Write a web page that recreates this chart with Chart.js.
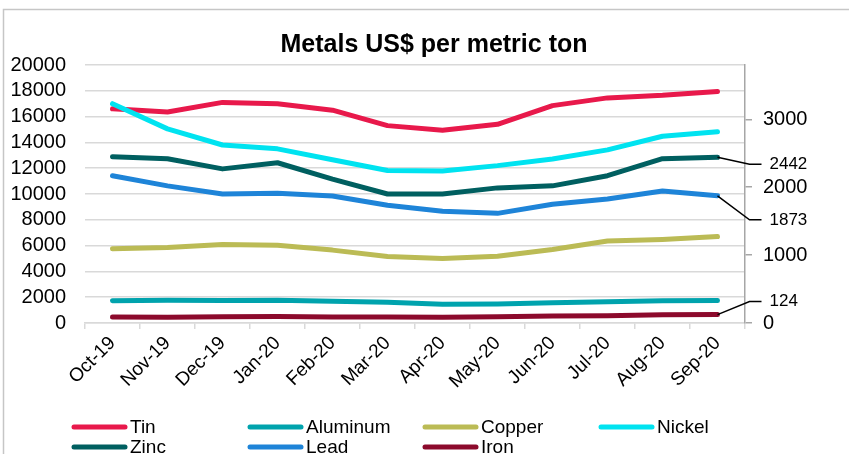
<!DOCTYPE html>
<html><head><meta charset="utf-8">
<script src="https://cdn.jsdelivr.net/npm/chart.js@4/dist/chart.umd.min.js"></script>
<style>html,body{margin:0;padding:0;background:#fff}#wrap{position:relative;width:849px;height:454px}</style>
</head><body><div id="wrap"><canvas id="c" width="849" height="454"></canvas></div>
<script>
const categories = ['Oct-19','Nov-19','Dec-19','Jan-20','Feb-20','Mar-20','Apr-20','May-20','Jun-20','Jul-20','Aug-20','Sep-20'];
const tin      = [16600, 16350, 17100, 17000, 16500, 15300, 14950, 15400, 16850, 17450, 17650, 17950];
const aluminum = [1720, 1760, 1750, 1770, 1690, 1610, 1460, 1470, 1570, 1640, 1730, 1740];
const copper   = [5750, 5850, 6080, 6030, 5650, 5150, 5000, 5180, 5700, 6350, 6480, 6700];
const nickel   = [17000, 15050, 13800, 13500, 12650, 11820, 11780, 12200, 12720, 13420, 14480, 14820];
const zinc     = [2450, 2420, 2270, 2360, 2120, 1900, 1900, 1990, 2020, 2170, 2420, 2442];
const lead     = [2170, 2020, 1900, 1910, 1870, 1735, 1645, 1615, 1750, 1825, 1945, 1873];
const iron     = [88, 85, 92, 95, 87, 89, 84, 93, 103, 108, 121, 124];
const leftTicks  = [0, 2000, 4000, 6000, 8000, 10000, 12000, 14000, 16000, 18000, 20000];
const rightTicks = [0, 1000, 2000, 3000];
const titleText = 'Metals US$ per metric ton';

const FONT = '"Liberation Sans", Arial, sans-serif';
const series = [
  {label:'Tin', data:tin, color:'#E8194B', axis:'y'},
  {label:'Aluminum', data:aluminum, color:'#00A3AD', axis:'y'},
  {label:'Copper', data:copper, color:'#BBBB55', axis:'y'},
  {label:'Nickel', data:nickel, color:'#00E3F0', axis:'y'},
  {label:'Zinc', data:zinc, color:'#005F60', axis:'y2'},
  {label:'Lead', data:lead, color:'#1E84D8', axis:'y2'},
  {label:'Iron', data:iron, color:'#8C0A2C', axis:'y2'}
];
// callout styling: dataset index -> vertical label offset (px)
const callouts = [{ds:4, dy:7}, {ds:5, dy:24}, {ds:6, dy:-13}];

const framePlugin = {
  id:'frame',
  beforeDraw(chart){
    const ctx = chart.ctx; ctx.save();
    ctx.fillStyle='#fff'; ctx.fillRect(0,0,chart.width,chart.height);
    ctx.strokeStyle='#C6C6C6'; ctx.lineWidth=1.5;
    ctx.strokeRect(3.5, 9.5, 900, 500);
    ctx.restore();
  },
  afterDraw(chart){
    const ctx = chart.ctx; ctx.save();
    ctx.fillStyle='#000'; ctx.font='bold 25px '+FONT;
    ctx.textAlign='center'; ctx.textBaseline='middle';
    ctx.fillText(titleText, 434, 45);
    // legend
    const cols=[72,248,423,599], rows=[427,447];
    ctx.font='19px '+FONT; ctx.textAlign='left';
    series.forEach((s,i)=>{
      const x=cols[i%4], y=rows[Math.floor(i/4)];
      ctx.strokeStyle=s.color; ctx.lineWidth=5; ctx.lineCap='round';
      ctx.beginPath(); ctx.moveTo(x+2,y); ctx.lineTo(x+53,y); ctx.stroke();
      ctx.fillStyle='#000'; ctx.fillText(s.label, x+58, y+1);
    });
    ctx.restore();
  },
  afterDatasetsDraw(chart){
    const ctx = chart.ctx; ctx.save();
    ctx.strokeStyle='#000'; ctx.lineWidth=1.5; ctx.lineCap='butt';
    ctx.font='17px '+FONT; ctx.fillStyle='#000'; ctx.textBaseline='middle'; ctx.textAlign='left';
    callouts.forEach(c=>{
      const meta = chart.getDatasetMeta(c.ds);
      const p = meta.data[meta.data.length-1];
      const ly = p.y + c.dy;
      ctx.beginPath(); ctx.moveTo(p.x, p.y); ctx.lineTo(p.x+32, ly); ctx.lineTo(p.x+44, ly); ctx.stroke();
      const d = chart.data.datasets[c.ds].data;
      ctx.fillText(String(d[d.length-1]), p.x+52, ly);
    });
    ctx.restore();
  }
};

new Chart(document.getElementById('c'), {
  type:'line',
  data:{
    labels:categories,
    datasets: series.map((s,i)=>({
      label:s.label, data:s.data, yAxisID:s.axis,
      borderColor:s.color, backgroundColor:s.color, borderWidth:5,
      borderCapStyle:'round', borderJoinStyle:'round',
      pointRadius:0, pointHoverRadius:0, tension:0, fill:false,
      order: series.length-1-i
    }))
  },
  options:{
    responsive:false, animation:false, devicePixelRatio:1,
    layout:{padding:{top:65,left:0,right:0,bottom:0}},
    plugins:{legend:{display:false}, title:{display:false}, tooltip:{enabled:false}},
    scales:{
      x:{
        offset:true,
        grid:{offset:true, drawOnChartArea:false, drawTicks:true, tickLength:6, color:'#D9D9D9', lineWidth:1.5},
        border:{display:true, color:'#D9D9D9', width:1.5},
        ticks:{minRotation:45, maxRotation:45, autoSkip:false, color:'#000', font:{family:FONT, size:19}, padding:3},
        afterFit(s){ s.height = 131; }
      },
      y:{
        position:'left', min:0, max:20000,
        afterBuildTicks(s){ s.ticks = leftTicks.map(v=>({value:v})); },
        grid:{color:'#D9D9D9', lineWidth:1.5, drawTicks:false},
        border:{display:false},
        ticks:{color:'#000', font:{family:FONT, size:20}, padding:19, autoSkip:false, callback:v=>String(v)},
        afterFit(s){ s.width = 85; }
      },
      y2:{
        position:'right', min:0, max:3800,
        afterBuildTicks(s){ s.ticks = rightTicks.map(v=>({value:v})); },
        grid:{drawOnChartArea:false, drawTicks:true, tickLength:7, color:'#A6A6A6', lineWidth:1.5},
        border:{display:true, color:'#A6A6A6', width:1.5},
        ticks:{color:'#000', font:{family:FONT, size:20}, padding:11, autoSkip:false, callback:v=>String(v)},
        afterFit(s){ s.width = 104; }
      }
    }
  },
  plugins:[framePlugin]
});
</script></body></html>
